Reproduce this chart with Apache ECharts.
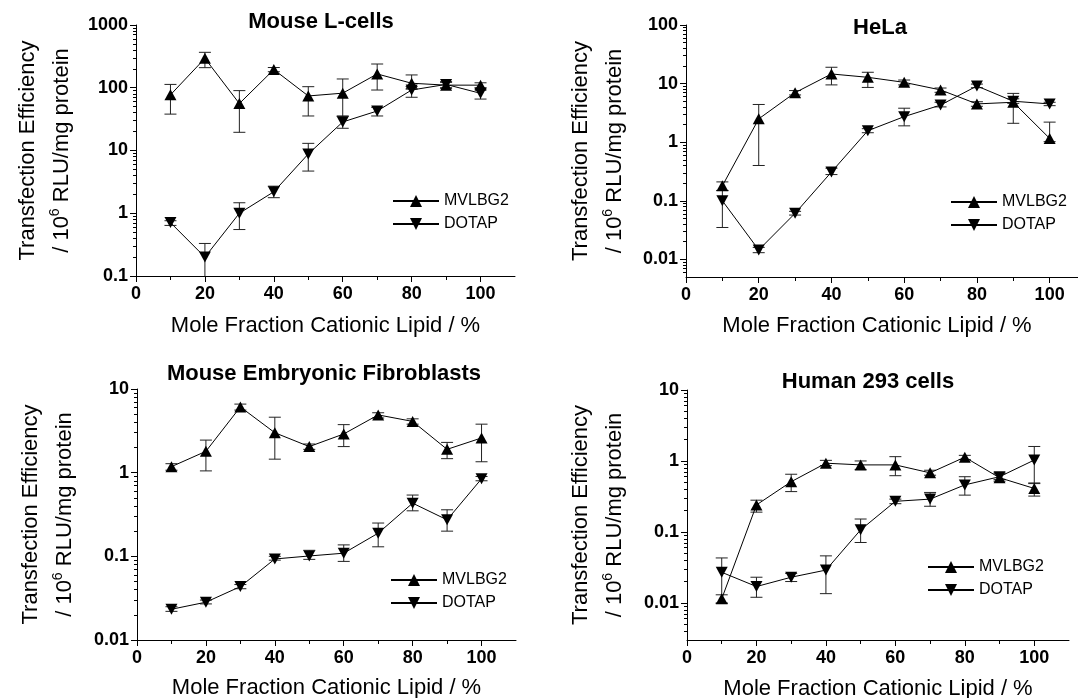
<!DOCTYPE html>
<html><head><meta charset="utf-8">
<script src="https://cdn.jsdelivr.net/npm/echarts@6/dist/echarts.min.js"></script>
<style>html,body{margin:0;padding:0;background:#fff}#c{width:1078px;height:698px}</style>
</head><body><div id="c"></div>
<script>
// ---------- data ----------
const xValues = [10, 20, 30, 40, 50, 60, 70, 80, 90, 100];
const xTickLabels = [0, 20, 40, 60, 80, 100];
const seriesNames = ['MVLBG2', 'DOTAP'];
const panelTitles = ['Mouse L-cells', 'HeLa', 'Mouse Embryonic Fibroblasts', 'Human 293 cells'];
const yMins = [0.1, 0.005, 0.01, 0.003];
const yMaxs = [1000, 100, 10, 10];
const yTickLabels1 = [0.1, 1, 10, 100, 1000];
const yTickLabels2 = [0.01, 0.1, 1, 10, 100];
const yTickLabels3 = [0.01, 0.1, 1, 10];
const yTickLabels4 = [0.01, 0.1, 1, 10];

// Mouse L-cells
const lcellsMVLBG2     = [77, 294, 56, 195, 74, 82, 166, 118, 110, 110];
const lcellsMVLBG2Low  = [38, 209, 19.5, 180, 35.5, 35, 92, 95, 98, 100];
const lcellsMVLBG2High = [113, 367, 90, 210, 104, 138, 239, 160, 122, 120];
const lcellsDOTAP      = [0.71, 0.2, 1.0, 2.2, 8.8, 28.5, 42.6, 92, 113, 81.5];
const lcellsDOTAPLow   = [0.64, 0.07, 0.55, 1.77, 4.7, 22.6, 35.5, 70.5, 100, 66];
const lcellsDOTAPHigh  = [0.76, 0.33, 1.47, 2.7, 13.0, 35.5, 48.8, 105, 125, 95];

// HeLa
const helaMVLBG2     = [0.18, 2.5, 7.0, 14.6, 12.8, 10.5, 7.8, 4.5, 4.8, 1.16];
const helaMVLBG2Low  = [0.15, 0.4, 6.4, 9.5, 8.6, 9.5, 7.1, 4.1, 2.1, 1.02];
const helaMVLBG2High = [0.21, 4.4, 7.6, 19, 15.6, 11.5, 8.4, 4.9, 6.8, 2.2];
const helaDOTAP      = [0.1, 0.0145, 0.061, 0.31, 1.57, 2.73, 4.3, 9.1, 5.0, 4.5];
const helaDOTAPLow   = [0.035, 0.013, 0.057, 0.28, 1.45, 1.9, 4.0, 8.5, 4.6, 4.2];
const helaDOTAPHigh  = [0.15, 0.016, 0.066, 0.36, 1.7, 3.8, 4.8, 9.8, 5.5, 4.8];

// Mouse Embryonic Fibroblasts
const mefMVLBG2     = [1.18, 1.8, 6.1, 3.0, 2.05, 2.9, 4.9, 4.1, 1.9, 2.6];
const mefMVLBG2Low  = [1.07, 1.05, 5.6, 1.45, 1.9, 2.05, 4.5, 3.8, 1.47, 1.35];
const mefMVLBG2High = [1.28, 2.45, 6.6, 4.6, 2.2, 3.75, 5.2, 4.4, 2.3, 3.8];
const mefDOTAP      = [0.0233, 0.0283, 0.0435, 0.093, 0.101, 0.109, 0.189, 0.432, 0.273, 0.845];
const mefDOTAPLow   = [0.022, 0.027, 0.041, 0.09, 0.092, 0.087, 0.13, 0.35, 0.2, 0.8];
const mefDOTAPHigh  = [0.025, 0.030, 0.046, 0.1, 0.118, 0.137, 0.25, 0.54, 0.36, 0.9];

// Human 293 cells
const h293MVLBG2     = [0.0114, 0.24, 0.51, 0.93, 0.88, 0.88, 0.68, 1.13, 0.58, 0.41];
const h293MVLBG2Low  = [0.0098, 0.19, 0.37, 0.86, 0.76, 0.62, 0.63, 1.05, 0.52, 0.32];
const h293MVLBG2High = [0.013, 0.28, 0.65, 1.02, 1.0, 1.15, 0.74, 1.2, 0.66, 0.49];
const h293DOTAP      = [0.027, 0.017, 0.023, 0.029, 0.107, 0.27, 0.29, 0.46, 0.6, 1.03];
const h293DOTAPLow   = [0.01, 0.012, 0.02, 0.0135, 0.071, 0.25, 0.23, 0.33, 0.55, 0.48];
const h293DOTAPHigh  = [0.043, 0.023, 0.026, 0.046, 0.152, 0.29, 0.36, 0.6, 0.68, 1.6];

// ---------- layout ----------
const FONT = '"Liberation Sans", Arial, Helvetica, sans-serif';
const panels = [
  { grid: {left: 136, top: 25, width: 379, height: 251}, titleX: 321, titleY: 11, xGap: 39, yGap: 57,
    legend: {left: 392, top: 193}, yTicks: yTickLabels1,
    mv: [lcellsMVLBG2, lcellsMVLBG2Low, lcellsMVLBG2High], dt: [lcellsDOTAP, lcellsDOTAPLow, lcellsDOTAPHigh] },
  { grid: {left: 686, top: 25, width: 400, height: 252}, titleX: 880, titleY: 17, xGap: 38, yGap: 54,
    legend: {left: 950, top: 194}, yTicks: yTickLabels2, xNamePad: [0, 18, 0, 0],
    mv: [helaMVLBG2, helaMVLBG2Low, helaMVLBG2High], dt: [helaDOTAP, helaDOTAPLow, helaDOTAPHigh] },
  { grid: {left: 137, top: 389, width: 379, height: 251}, titleX: 324, titleY: 363, xGap: 37, yGap: 55,
    legend: {left: 390, top: 572}, yTicks: yTickLabels3,
    mv: [mefMVLBG2, mefMVLBG2Low, mefMVLBG2High], dt: [mefDOTAP, mefDOTAPLow, mefDOTAPHigh] },
  { grid: {left: 687, top: 390, width: 382, height: 250}, titleX: 868, titleY: 371, xGap: 38, yGap: 55,
    legend: {left: 927, top: 559}, yTicks: yTickLabels4,
    mv: [h293MVLBG2, h293MVLBG2Low, h293MVLBG2High], dt: [h293DOTAP, h293DOTAPLow, h293DOTAPHigh] }
];

function logLabel(v) {
  const l = Math.log10(v);
  if (Math.abs(l - Math.round(l)) > 1e-6) return '';
  return String(Number(v.toPrecision(3)));
}

function errRender(params, api) {
  const x = api.value(0), lo = api.value(1), hi = api.value(2);
  const pLo = api.coord([x, lo]), pHi = api.coord([x, hi]);
  const hw = 6;
  const style = {stroke: '#222', lineWidth: 1, fill: null};
  return {type: 'group', children: [
    {type: 'line', shape: {x1: pLo[0], y1: pLo[1], x2: pHi[0], y2: pHi[1]}, style: style},
    {type: 'line', shape: {x1: pLo[0] - hw, y1: pLo[1], x2: pLo[0] + hw, y2: pLo[1]}, style: style},
    {type: 'line', shape: {x1: pHi[0] - hw, y1: pHi[1], x2: pHi[0] + hw, y2: pHi[1]}, style: style}
  ]};
}

const option = {
  backgroundColor: '#fff', animation: false,
  textStyle: {fontFamily: FONT, color: '#000'},
  title: [], grid: [], xAxis: [], yAxis: [], legend: [], series: []
};

const axisLineStyle = {color: '#000', width: 1};

panels.forEach((p, i) => {
  option.title.push({
    text: panelTitles[i], left: p.titleX, top: p.titleY, textAlign: 'center', padding: 0,
    textStyle: {fontFamily: FONT, fontWeight: 'bold', fontSize: 22, color: '#000'}
  });
  option.grid.push(Object.assign({containLabel: false, outerBoundsMode: 'none'}, p.grid));
  option.xAxis.push({
    type: 'value', gridIndex: i, min: 0, max: 110, interval: 20,
    name: 'Mole Fraction Cationic Lipid / %', nameLocation: 'middle', nameGap: p.xGap,
    nameTextStyle: {fontFamily: FONT, fontSize: 22, color: '#000', padding: p.xNamePad || 0},
    axisLine: {show: true, onZero: false, lineStyle: axisLineStyle},
    axisTick: {show: true, length: 6, customValues: xTickLabels, lineStyle: axisLineStyle},
    minorTick: {show: true, splitNumber: 2, length: 4, lineStyle: axisLineStyle},
    axisLabel: {customValues: xTickLabels, margin: 9, fontFamily: FONT, fontSize: 18, fontWeight: 'bold', color: '#000',
      formatter: v => (v <= 100 ? String(v) : '')},
    splitLine: {show: false}
  });
  option.yAxis.push({
    type: 'log', logBase: 10, gridIndex: i, min: yMins[i], max: yMaxs[i],
    name: 'Transfection Efficiency\n{a|/ 10}{s|6}{a| RLU/mg protein}',
    nameLocation: 'middle', nameRotate: 90, nameGap: p.yGap,
    nameTextStyle: {fontFamily: FONT, fontSize: 22, color: '#000', lineHeight: 34,
      rich: {a: {fontFamily: FONT, fontSize: 22, color: '#000', lineHeight: 34},
             s: {fontFamily: FONT, fontSize: 14, color: '#000', lineHeight: 34, padding: [0, 0, 14, 0]}}},
    axisLine: {show: true, onZero: false, lineStyle: axisLineStyle},
    axisTick: {show: true, length: 6, customValues: p.yTicks, lineStyle: axisLineStyle},
    minorTick: {show: true, splitNumber: 9, length: 3, lineStyle: axisLineStyle},
    axisLabel: {customValues: p.yTicks, margin: 8, fontFamily: FONT, fontSize: 18, fontWeight: 'bold', color: '#000',
      formatter: logLabel},
    splitLine: {show: false}
  });
  option.legend.push({
    data: seriesNames, orient: 'vertical', left: p.legend.left, top: p.legend.top, padding: 0,
    itemWidth: 46, itemHeight: 15, itemGap: 7, selectedMode: false,
    textStyle: {fontFamily: FONT, fontSize: 16, color: '#000'}
  });
  const defs = [[seriesNames[0], p.mv, 0], [seriesNames[1], p.dt, 180]];
  defs.forEach(([name, arr, rot]) => {
    option.series.push({
      type: 'custom', name: name + ' error', xAxisIndex: i, yAxisIndex: i, clip: true, z: 2,
      renderItem: errRender, encode: {x: 0, y: [1, 2]},
      data: xValues.map((x, k) => [x, arr[1][k], arr[2][k]])
    });
    option.series.push({
      type: 'line', name: name, xAxisIndex: i, yAxisIndex: i, z: 3,
      symbol: 'triangle', symbolSize: [12, 11], symbolRotate: rot, showAllSymbol: true,
      itemStyle: {color: '#000'}, lineStyle: {color: '#000', width: 1},
      data: xValues.map((x, k) => [x, arr[0][k]])
    });
  });
});

const chart = echarts.init(document.getElementById('c'), null, {renderer: 'canvas'});
chart.setOption(option);
</script>
</body></html>
